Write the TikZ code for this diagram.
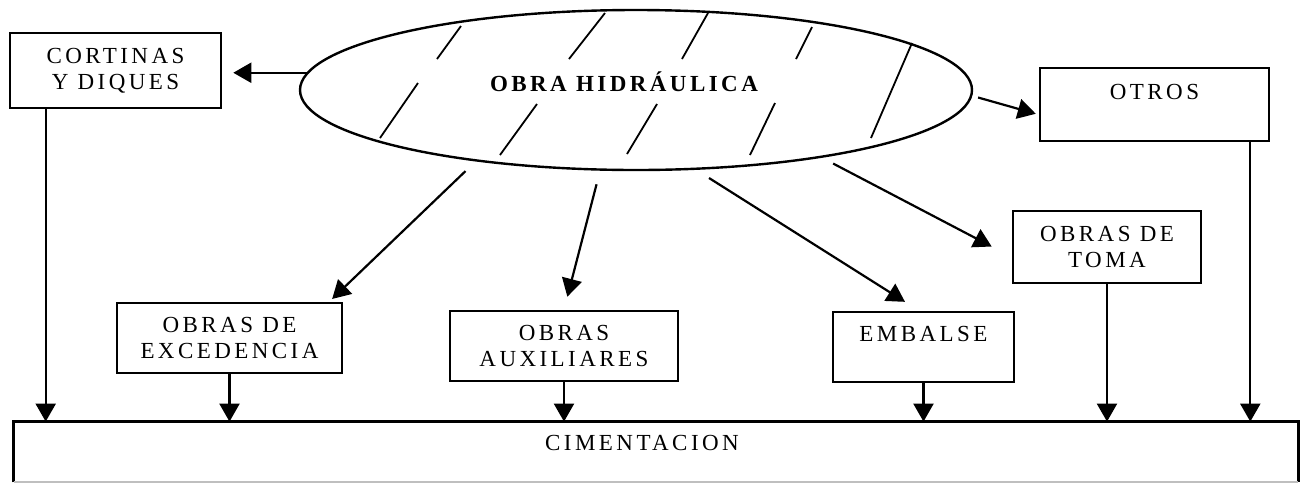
\documentclass[tikz,border=0pt]{standalone}
\usepackage{fontspec}
\setmainfont{Liberation Serif}[LetterSpace=15]
\usetikzlibrary{arrows.meta,shapes.geometric}
\tikzset{
    box/.style={draw, line width=1.3pt, align=center, inner sep=0pt, font=\fontsize{11.5}{13}\selectfont},
    lbl/.style={font=\fontsize{11.5}{13}\selectfont},
    arr/.style={line width=1.1pt, -{Triangle[length=9pt,width=10pt]}},
    hatch/.style={line width=0.9pt}
}
\begin{document}
\begin{tikzpicture}[x=0.5pt, y=-0.5pt]
    \useasboundingbox (0,0) rectangle (1303,483);

    \node[ellipse, draw, line width=1.2pt, minimum width=336pt, minimum height=80pt, inner sep=0pt] (ell) at (636,90) {};
    \foreach \a/\b/\c/\d in {461/26/437/59, 605/13/569/59, 708/13/682/59, 812/27/796/59,
        418/83/380/138, 537/104/500/155, 657/104/627/154, 775/103/750/155, 912/43/871/138}
        \draw[hatch] (\a,\b) -- (\c,\d);
    \node[font=\bfseries\fontsize{11.5}{13}\selectfont] (obra) at (624,82) {OBRA HIDRÁULICA};

    \node[box, minimum width=105.5pt, minimum height=37.5pt] (cor) at (115.5,70.5) {CORTINAS\\Y DIQUES};
    \node[box, minimum width=114.5pt, minimum height=36.5pt] (oth) at (1154.5,104.5) {OTROS\\\mbox{}};
    \node[box, minimum width=94pt, minimum height=36pt] (tom) at (1107,247) {OBRAS DE\\TOMA};
    \node[box, minimum width=112.5pt, minimum height=35pt] (exc) at (229.5,338) {OBRAS DE\\EXCEDENCIA};
    \node[box, minimum width=114pt, minimum height=35pt] (aux) at (564,346) {OBRAS\\AUXILIARES};
    \node[box, minimum width=90.5pt, minimum height=35pt] (emb) at (923.5,347) {EMBALSE\\\mbox{}};

    \node[minimum width=642pt, minimum height=30pt, inner sep=0pt] (cim) at (656,452) {};
    \draw[line width=1.3pt] (cim.south west) -- (cim.north west) -- (cim.north east) -- (cim.south east);
    \draw[line width=1pt, black!25] (cim.south west) -- (cim.south east);
    \node[lbl] (cimtxt) at (642,443) {CIMENTACION};

    \draw[arr, shorten >=5.5pt] (ell.177) -- (ell.177 -| cor.east);
    \draw[arr, shorten <=3pt, shorten >=1.5pt] (ell.-1) -- (oth.185);
    \draw[arr, shorten <=7pt, shorten >=2pt] (ell.204) -- (exc.20);
    \draw[arr, shorten <=7pt, shorten >=6.7pt] (ell.246) -- (aux.north);
    \draw[arr, shorten <=7.6pt, shorten >=8.3pt] (ell.307) -- (emb.97);
    \draw[arr, shorten <=6.3pt, shorten >=11.3pt] (ell.340) -- (tom.186);

    \coordinate (c1) at ([xshift=18.5pt]cor.south west);
    \coordinate (c2) at ([xshift=-10pt]oth.south east);
    \draw[arr] (c1) -- (c1 |- cim.north);
    \draw[arr] (exc.south) -- (exc.south |- cim.north);
    \draw[arr] (aux.south) -- (aux.south |- cim.north);
    \draw[arr] (emb.south) -- (emb.south |- cim.north);
    \draw[arr] (tom.south) -- (tom.south |- cim.north);
    \draw[arr] (c2) -- (c2 |- cim.north);

\end{tikzpicture}
\end{document}
